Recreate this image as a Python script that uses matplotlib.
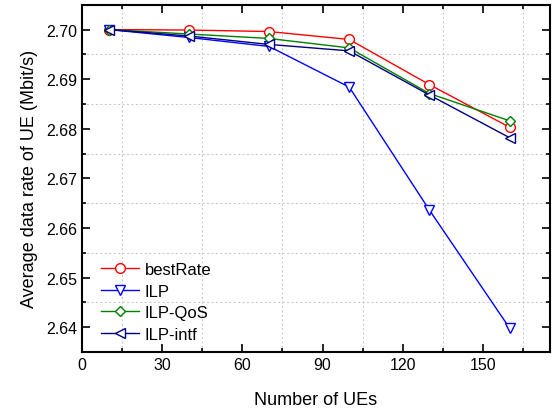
import matplotlib
matplotlib.use("Agg")
import matplotlib.pyplot as plt
from matplotlib.ticker import MultipleLocator

plt.rcParams['font.family'] = ['Liberation Sans', 'DejaVu Sans']

x = [10, 40, 70, 100, 130, 160]
best_rate = [2.7000, 2.6999, 2.6996, 2.6980, 2.6889, 2.6803]
ilp = [2.7000, 2.6984, 2.6966, 2.6884, 2.6636, 2.6398]
ilp_qos = [2.7000, 2.6991, 2.6982, 2.6963, 2.6871, 2.6816]
ilp_intf = [2.7000, 2.6987, 2.6970, 2.6957, 2.6868, 2.6782]

series = [
    ("bestRate", best_rate, "#ff0000", "o"),
    ("ILP", ilp, "#0000ff", "v"),
    ("ILP-QoS", ilp_qos, "#008000", "D"),
    ("ILP-intf", ilp_intf, "#000080", "<"),
]

fig = plt.figure(figsize=(5.57, 4.10), dpi=100)
ax = fig.add_axes([0.147, 0.139, 0.840, 0.847])

for name, vals, c, m in series:
    ms = 5.5 if m == "D" else 7
    ax.plot(x, vals, color=c, marker=m, markersize=ms, markerfacecolor='white',
            markeredgecolor=c, markeredgewidth=1.0, linewidth=1.0, label=name)

ax.set_xlim(0, 175)
ax.set_ylim(2.635, 2.705)
ax.xaxis.set_major_locator(MultipleLocator(30))
ax.xaxis.set_minor_locator(MultipleLocator(15))
ax.yaxis.set_major_locator(MultipleLocator(0.01))
ax.yaxis.set_minor_locator(MultipleLocator(0.005))
ax.yaxis.set_major_formatter(matplotlib.ticker.FormatStrFormatter('%.2f'))

ax.grid(False, which='major')
ax.grid(True, which='minor', linestyle=(0, (2, 2)), color='#cccccc', linewidth=0.8)

ax.tick_params(which='both', direction='in', top=True, right=True, width=1.2)
ax.tick_params(which='major', length=6, labelsize=11.5)
ax.tick_params(which='minor', length=3)
for s in ax.spines.values():
    s.set_linewidth(1.5)

ax.set_xlabel("Number of UEs", fontsize=13, labelpad=14)
ax.set_ylabel("Average data rate of UE (Mbit/s)", fontsize=13, labelpad=6)

leg = ax.legend(loc='lower left', frameon=False, fontsize=12, handlelength=2.3,
                labelspacing=0.40, bbox_to_anchor=(0.008, -0.014), handletextpad=0.35)

fig.savefig("out.png", dpi=100)
